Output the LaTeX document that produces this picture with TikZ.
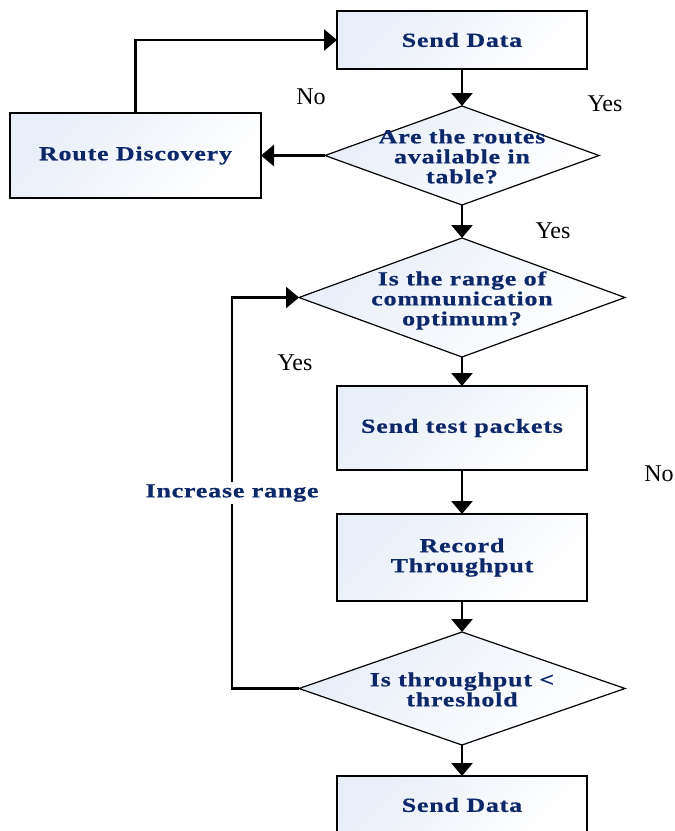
\documentclass[tikz,border=0pt]{standalone}
\usepackage{fontspec}
\setmainfont{Liberation Serif}
\newfontfamily\boxfont[FakeStretch=1.3,FakeBold=0.6,LetterSpace=4]{Liberation Serif}
\usetikzlibrary{shapes.geometric, arrows.meta, positioning}
\definecolor{navy}{RGB}{12,40,105}
\definecolor{paleblue}{RGB}{232,238,248}
% text of a decision, not counted in the diamond's size
\newcommand{\dtext}[1]{\makebox[0pt]{\smash{\raisebox{-9pt}{\begin{tabular}{@{}c@{}}#1\end{tabular}}}}}

\begin{document}
\begin{tikzpicture}[
    x=1pt, y=1pt,
    font=\fontsize{20}{20}\boxfont\bfseries,
    every node/.style={align=center},
    box/.style ={rectangle, draw, line width=1.6pt, inner sep=0pt, outer sep=0pt,
                 minimum width=250pt, top color=paleblue, bottom color=white,
                 shading angle=45, text=navy},
    dec/.style ={diamond, draw, line width=1.2pt, inner sep=0pt, outer sep=0pt,
                 top color=paleblue, bottom color=white, shading angle=45, text=navy},
    lab/.style ={font=\normalfont\fontsize{24}{26}\selectfont},
    arr/.style ={-{Triangle[length=13pt,width=21pt]}, line width=2.8pt}
]
\useasboundingbox (0,0) rectangle (675,-831);

% Top part
\node[box, minimum height=58pt] (send1) at (462,-40) {Send Data};
\node[dec, minimum width=274pt, minimum height=99pt, below=37pt of send1] (avail)
     {\dtext{Are the routes\\available in\\table?}};
\node[box, minimum width=251pt, minimum height=85pt, left=64pt of avail] (route) {Route Discovery};

% Test loop
\node[dec, minimum width=326pt, minimum height=119pt, below=33pt of avail] (range)
     {\dtext{Is the range of\\communication\\optimum?}};
\node[box, minimum height=84pt, below=29pt of range] (test) {Send test packets};
\node[box, minimum height=87pt, below=44pt of test] (record) {Record\\Throughput};
\node[dec, minimum width=326pt, minimum height=113pt, below=31pt of record] (thresh)
     {\dtext{Is throughput <\\threshold}};
\node[box, minimum height=58pt, below=31pt of thresh] (send2) {Send Data};

% Answers
\node[lab] (no1)  at (311,-97)  {No};
\node[lab] (yes1) at (605,-104) {Yes};
\node[lab] (yes2) at (553,-231) {Yes};
\node[lab] (yes3) at (295,-363) {Yes};
\node[lab] (no2)  at (659,-474) {No};

% Arrows
\draw[arr] (send1) -- (avail);
\draw[arr] (avail) -- (route);
\draw[arr] (route.north) |- (send1.west);
\draw[arr] (avail) -- (range);
\draw[arr] (range) -- (test);
\draw[arr] (test) -- (record);
\draw[arr] (record) -- (thresh);
\draw[arr] (thresh) -- (send2);
\draw[arr] (thresh.west) -- ++(-67,0)
      |- node[pos=0.25, fill=white, inner sep=2pt, text=navy] {Increase range} (range.west);
\end{tikzpicture}
\end{document}
